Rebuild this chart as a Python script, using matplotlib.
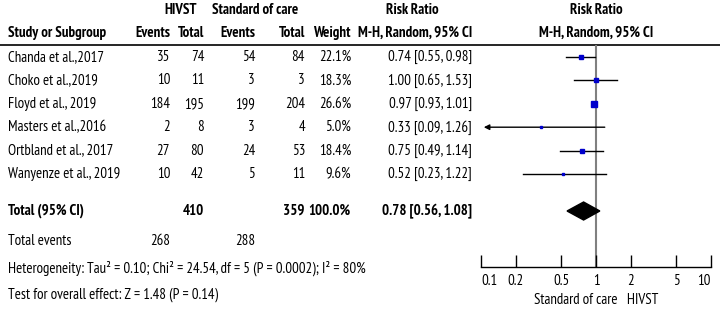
import numpy as np
import matplotlib.pyplot as plt

plt.rcParams['font.family'] = ['PT Sans Narrow', 'DejaVu Sans']

studies = ['Chanda et al.,2017', 'Choko et al.,2019', 'Floyd et al., 2019',
           'Masters et al.,2016', 'Ortbland et al., 2017', 'Wanyenze et al., 2019']
hivst_events = [35, 10, 184, 2, 27, 10]
hivst_total = [74, 11, 195, 8, 80, 42]
soc_events = [54, 3, 199, 3, 24, 5]
soc_total = [84, 3, 204, 4, 53, 11]
weights = [22.1, 18.3, 26.6, 5.0, 18.4, 9.6]
rr = [0.74, 1.00, 0.97, 0.33, 0.75, 0.52]
rr_lo = [0.55, 0.65, 0.93, 0.09, 0.49, 0.23]
rr_hi = [0.98, 1.53, 1.01, 1.26, 1.14, 1.22]
total_rr, total_lo, total_hi = 0.78, 0.56, 1.08
ticks = [0.1, 0.2, 0.5, 1, 2, 5, 10]
tick_labels = ['0.1', '0.2', '0.5', '1', '2', '5', '10']

W, H = 720, 309
fig = plt.figure(figsize=(W / 100, H / 100), dpi=100)
ax = fig.add_axes([0, 0, 1, 1])
ax.set_xlim(0, W)
ax.set_ylim(H, 0)
ax.axis('off')

fs = 10.7
row_y = [57 + 23.4 * i for i in range(len(studies))]
y_total = 211
x_axis_left, x_axis_right = 481, 711
y_top, y_axis = 45, 267

# headers
ax.text(181, 10, 'HIVST', ha='center', va='center', fontsize=fs, fontweight='bold')
ax.text(255, 10, 'Standard of care', ha='center', va='center', fontsize=fs, fontweight='bold')
ax.text(412, 10, 'Risk Ratio', ha='center', va='center', fontsize=fs, fontweight='bold')
ax.text(596, 10, 'Risk Ratio', ha='center', va='center', fontsize=fs, fontweight='bold')
hy = 33
ax.text(8, hy, 'Study or Subgroup', ha='left', va='center', fontsize=fs, fontweight='bold')
for x, t in [(170, 'Events'), (204, 'Total'), (255, 'Events'), (305, 'Total'), (351, 'Weight'),
             (472, 'M-H, Random, 95% CI')]:
    ax.text(x, hy, t, ha='right', va='center', fontsize=fs, fontweight='bold')
ax.text(596, hy, 'M-H, Random, 95% CI', ha='center', va='center', fontsize=fs, fontweight='bold')
ax.plot([0, W], [y_top, y_top], color='black', lw=1.2)

for i, s in enumerate(studies):
    y = row_y[i]
    ax.text(8, y, s, ha='left', va='center', fontsize=fs)
    ax.text(170, y, str(hivst_events[i]), ha='right', va='center', fontsize=fs)
    ax.text(204, y, str(hivst_total[i]), ha='right', va='center', fontsize=fs)
    ax.text(255, y, str(soc_events[i]), ha='right', va='center', fontsize=fs)
    ax.text(305, y, str(soc_total[i]), ha='right', va='center', fontsize=fs)
    ax.text(351, y, f'{weights[i]:.1f}%', ha='right', va='center', fontsize=fs)
    ax.text(472, y, f'{rr[i]:.2f} [{rr_lo[i]:.2f}, {rr_hi[i]:.2f}]', ha='right', va='center', fontsize=fs)

ax.text(8, y_total, 'Total (95% CI)', ha='left', va='center', fontsize=fs, fontweight='bold')
ax.text(204, y_total, str(sum(hivst_total)), ha='right', va='center', fontsize=fs, fontweight='bold')
ax.text(305, y_total, str(sum(soc_total)), ha='right', va='center', fontsize=fs, fontweight='bold')
ax.text(351, y_total, '100.0%', ha='right', va='center', fontsize=fs, fontweight='bold')
ax.text(472, y_total, f'{total_rr:.2f} [{total_lo:.2f}, {total_hi:.2f}]', ha='right', va='center',
        fontsize=fs, fontweight='bold')
ax.text(8, 241, 'Total events', ha='left', va='center', fontsize=fs)
ax.text(170, 241, str(sum(hivst_events)), ha='right', va='center', fontsize=fs)
ax.text(255, 241, str(sum(soc_events)), ha='right', va='center', fontsize=fs)
ax.text(8, 268, 'Heterogeneity: Tau² = 0.10; Chi² = 24.54, df = 5 (P = 0.0002); I² = 80%',
        ha='left', va='center', fontsize=fs)
ax.text(8, 295, 'Test for overall effect: Z = 1.48 (P = 0.14)', ha='left', va='center', fontsize=fs)

# forest panel
fx = fig.add_axes([x_axis_left / W, (H - y_axis) / H, (x_axis_right - x_axis_left) / W, (y_axis - y_top) / H])
fx.set_xscale('log')
fx.set_xlim(0.1, 10)
fx.set_ylim(y_axis, y_top)
fx.patch.set_alpha(0)
for sp in ['top', 'left', 'right']:
    fx.spines[sp].set_visible(False)
fx.spines['bottom'].set_linewidth(1.0)
fx.set_yticks([])
fx.set_xticks(ticks)
fx.set_xticklabels(tick_labels, fontsize=fs)
fx.minorticks_off()
fx.tick_params(axis='x', direction='in', length=9, width=1, pad=5)
labs = fx.get_xticklabels()
labs[0].set_ha('left')
labs[-1].set_ha('right')
fx.axvline(1, color='#808080', lw=1.5, zorder=1)

for i in range(len(studies)):
    y = row_y[i]
    lo = max(rr_lo[i], 0.1)
    if rr_lo[i] < 0.1:
        fx.annotate('', xy=(0.1, y), xytext=(rr_hi[i], y),
                    arrowprops=dict(arrowstyle='-|>', color='black', lw=1, mutation_scale=8),
                    annotation_clip=False)
    else:
        fx.plot([lo, rr_hi[i]], [y, y], color='black', lw=1, zorder=2)
    fx.plot(rr[i], y, marker='s', color='#0000cc', ms=1 + weights[i] * 0.11, mec='#0000cc', zorder=3)

dw = 9
fx.fill([total_lo, total_rr, total_hi, total_rr], [y_total, y_total - dw, y_total, y_total + dw],
        color='black', zorder=3)

fig.text(596 / W, 1 - 300 / H, 'Standard of care   HIVST', ha='center', va='center', fontsize=fs)

fig.savefig('out.png', dpi=100)
